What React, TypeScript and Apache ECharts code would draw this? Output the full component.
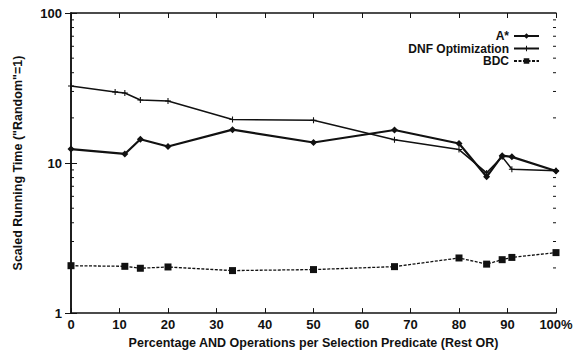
import React, { useEffect, useRef } from "react";
import * as echarts from "echarts";

const xAStar = [0, 11.1, 14.3, 20, 33.3, 50, 66.7, 80, 85.7, 88.9, 90.9, 100];
const aStar = [12.4, 11.5, 14.4, 12.9, 16.7, 13.7, 16.6, 13.5, 8.1, 11.2, 11.0, 8.85];

const xDnf = [0, 9.1, 11.1, 14.3, 20, 33.3, 50, 66.7, 80, 85.7, 88.9, 90.9, 100];
const dnf = [32.6, 29.8, 29.3, 26.3, 25.9, 19.5, 19.3, 14.3, 12.3, 8.6, 11.0, 9.1, 8.9];

const xBdc = [0, 11.1, 14.3, 20, 33.3, 50, 66.7, 80, 85.7, 88.9, 90.9, 100];
const bdc = [2.07, 2.05, 1.99, 2.03, 1.92, 1.95, 2.04, 2.33, 2.12, 2.27, 2.35, 2.53];

const xTickLabels = ["0", "10", "20", "30", "40", "50", "60", "70", "80", "90", "100%"];

const minorTicks: number[] = [];
for (const d of [1, 10]) for (let k = 2; k <= 9; k++) minorTicks.push(k * d);

const FONT = "'Liberation Sans', Arial, sans-serif";
const INK = "#111";

export default function App() {
  const ref = useRef<HTMLDivElement>(null);
  useEffect(() => {
    if (!ref.current) return;
    const chart = echarts.init(ref.current, undefined, { renderer: "svg" });
    const pair = (xs: number[], ys: number[]) => xs.map((x, i) => [x, ys[i]]);
    const plus = "path://M4.1,0H5.9V4.1H10V5.9H5.9V10H4.1V5.9H0V4.1H4.1Z";
    const axisLabel = { color: INK, fontFamily: FONT, fontWeight: "bold" as const, fontSize: 13 };
    chart.setOption({
      animation: false,
      grid: { left: 71, right: 22, top: 13, bottom: 36 },
      legend: {
        orient: "vertical",
        right: 33,
        top: 25,
        align: "right",
        itemWidth: 25,
        itemHeight: 7,
        itemGap: 0.5,
        textStyle: { color: INK, fontFamily: FONT, fontWeight: "bold", fontSize: 12, lineHeight: 12, padding: [0, 0, 0, 0] },
        data: ["A*", "DNF Optimization", "BDC"],
      },
      xAxis: [
        {
          type: "value",
          min: 0,
          max: 100,
          interval: 10,
          position: "bottom",
          name: "Percentage AND Operations per Selection Predicate (Rest OR)",
          nameLocation: "middle",
          nameGap: 20,
          nameTextStyle: { color: INK, fontFamily: FONT, fontWeight: "bold", fontSize: 12.5 },
          axisLine: { lineStyle: { color: INK, width: 1.5 } },
          axisTick: { inside: true, length: 5, lineStyle: { color: INK, width: 1 } },
          axisLabel: { ...axisLabel, margin: 5, formatter: (v: number) => xTickLabels[Math.round(v / 10)] },
          splitLine: { show: false },
        },
        {
          type: "value",
          min: 0,
          max: 100,
          interval: 10,
          position: "top",
          axisLine: { lineStyle: { color: INK, width: 1.5 } },
          axisTick: { inside: true, length: 5, lineStyle: { color: INK, width: 1 } },
          axisLabel: { show: false },
          splitLine: { show: false },
        },
      ],
      yAxis: [
        {
          type: "log",
          logBase: 10,
          min: 1,
          max: 100,
          position: "left",
          name: "Scaled Running Time (\"Random\"=1)",
          nameLocation: "middle",
          nameGap: 47,
          nameTextStyle: { color: INK, fontFamily: FONT, fontWeight: "bold", fontSize: 12.5 },
          axisLine: { show: true, lineStyle: { color: INK, width: 1.5 } },
          axisTick: { inside: true, length: 6, lineStyle: { color: INK, width: 1 } },
          axisLabel: { ...axisLabel, margin: 9 },
          splitLine: { show: false },
        },
        {
          type: "log",
          logBase: 10,
          min: 1,
          max: 100,
          position: "right",
          axisLine: { show: true, lineStyle: { color: INK, width: 1.5 } },
          axisTick: { inside: true, length: 6, lineStyle: { color: INK, width: 1 } },
          axisLabel: { show: false },
          splitLine: { show: false },
        },
      ],
      series: [
        {
          type: "custom",
          xAxisIndex: 0,
          yAxisIndex: 0,
          silent: true,
          clip: false,
          data: minorTicks.map((v) => [0, v]),
          encode: { x: 0, y: 1 },
          renderItem: (params: any, api: any) => {
            const v = api.value(1);
            const l = api.coord([0, v]);
            const r = api.coord([100, v]);
            return {
              type: "group",
              children: [
                { type: "line", shape: { x1: l[0], y1: l[1], x2: l[0] + 3, y2: l[1] }, style: { stroke: INK, lineWidth: 1 } },
                { type: "line", shape: { x1: r[0], y1: r[1], x2: r[0] - 3, y2: r[1] }, style: { stroke: INK, lineWidth: 1 } },
              ],
            };
          },
        },
        {
          name: "A*",
          type: "line",
          data: pair(xAStar, aStar),
          symbol: "diamond",
          symbolSize: 7,
          itemStyle: { color: INK },
          lineStyle: { color: INK, width: 2.2 },
        },
        {
          name: "DNF Optimization",
          type: "line",
          data: pair(xDnf, dnf),
          symbol: plus,
          symbolSize: 6,
          itemStyle: { color: INK },
          lineStyle: { color: INK, width: 1.5 },
        },
        {
          name: "BDC",
          type: "line",
          data: pair(xBdc, bdc),
          symbol: "rect",
          symbolSize: 7,
          itemStyle: { color: INK },
          lineStyle: { color: INK, width: 1.3, type: [3, 1.5] },
        },
      ],
    });
    return () => chart.dispose();
  }, []);
  return <div ref={ref} style={{ width: 578, height: 354, position: "absolute", left: 0, top: 0 }} />;
}
